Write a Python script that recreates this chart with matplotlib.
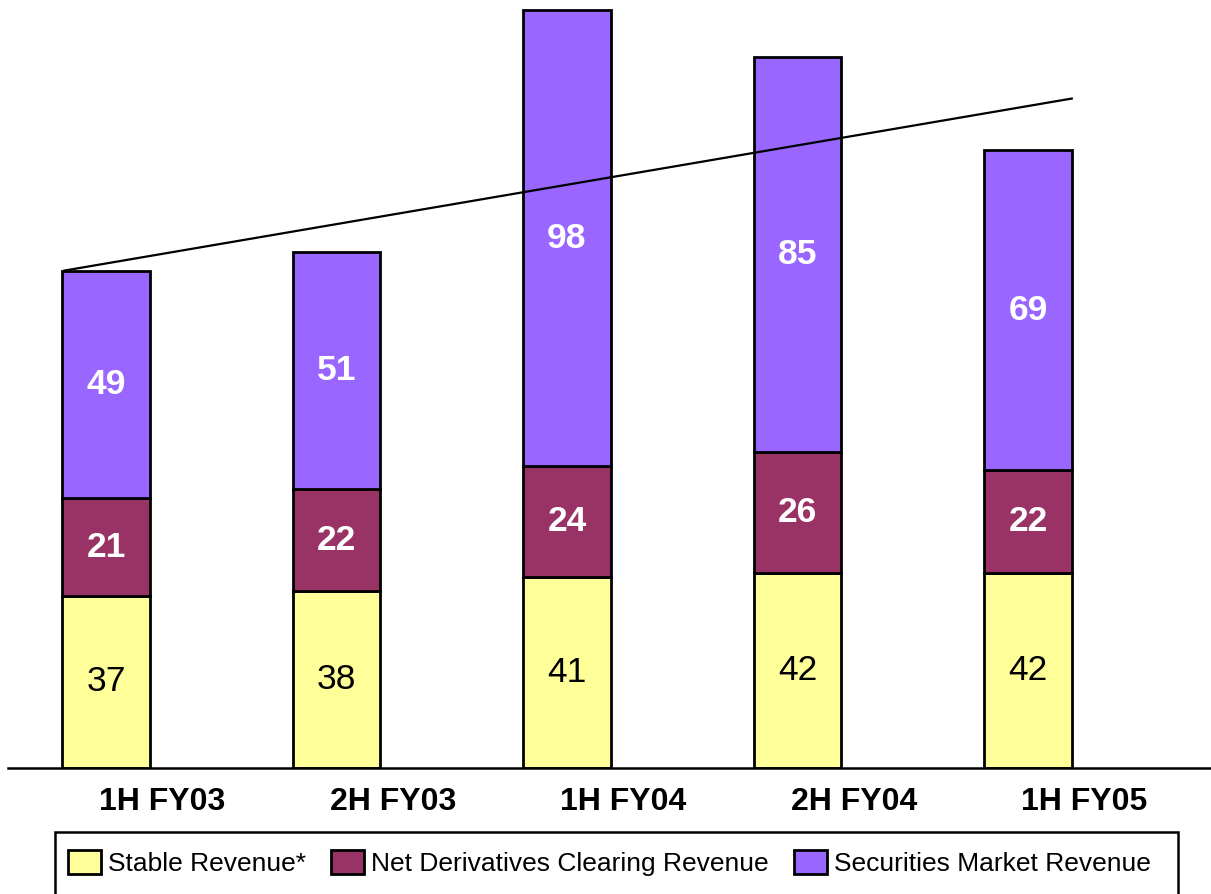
import matplotlib.pyplot as plt
from matplotlib.patches import Patch, Rectangle

plt.rcParams['font.family'] = ['Liberation Sans', 'DejaVu Sans']

periods = ['1H FY03', '2H FY03', '1H FY04', '2H FY04', '1H FY05']
stable = [37, 38, 41, 42, 42]
derivatives = [21, 22, 24, 26, 22]
securities = [49, 51, 98, 85, 69]

# trend line end points (x position, value)
trend_x = [-0.18, 4.19]
trend_y = [107, 144]

yellow = '#FFFF99'
maroon = '#993366'
purple = '#9966FF'

fig = plt.figure(figsize=(12.11, 8.94), dpi=100)
ax = fig.add_axes([8 / 1211, 126 / 894, 1203 / 1211, 768 / 894])

x = list(range(len(periods)))
w = 0.38
bottom2 = [a + b for a, b in zip(stable, derivatives)]

ax.bar(x, stable, w, color=yellow, edgecolor='black', linewidth=2)
ax.bar(x, derivatives, w, bottom=stable, color=maroon, edgecolor='black', linewidth=2)
ax.bar(x, securities, w, bottom=bottom2, color=purple, edgecolor='black', linewidth=2)

for i in x:
    ax.text(i, stable[i] / 2, str(stable[i]), ha='center', va='center',
            fontsize=25.5, color='black')
    ax.text(i, stable[i] + derivatives[i] / 2, str(derivatives[i]), ha='center',
            va='center', fontsize=25.5, color='white', fontweight='bold')
    ax.text(i, bottom2[i] + securities[i] / 2, str(securities[i]), ha='center',
            va='center', fontsize=25.5, color='white', fontweight='bold')

ax.plot(trend_x, trend_y, color='black', linewidth=1.6, clip_on=False)

ax.set_xlim(-0.425, 4.794)
ax.set_ylim(0, 165.2)
# labels sit a little to the right of the bars in the original
ax.set_xticks([i + 0.245 for i in x])
ax.set_xticklabels(periods, fontsize=23, fontweight='bold')
ax.tick_params(axis='x', length=0, pad=14)
ax.set_yticks([])
for s in ['top', 'left', 'right']:
    ax.spines[s].set_visible(False)
ax.spines['bottom'].set_linewidth(1.8)
ax.patch.set_alpha(0)

handles = [Patch(facecolor=yellow, edgecolor='black', linewidth=2),
           Patch(facecolor=maroon, edgecolor='black', linewidth=2),
           Patch(facecolor=purple, edgecolor='black', linewidth=2)]
labels = ['Stable Revenue*', 'Net Derivatives Clearing Revenue', 'Securities Market Revenue']
leg = fig.legend(handles, labels, loc='center left', ncol=3,
                 bbox_to_anchor=(68 / 1211, 1 - 863 / 894),
                 fontsize=19, frameon=False,
                 handlelength=1.25, handleheight=1.0,
                 handletextpad=0.27, columnspacing=0.95, borderpad=0,
                 borderaxespad=0)

fig.patches.append(Rectangle((55 / 1211, -0.02), 1123 / 1211, (894 - 832) / 894 + 0.02,
                             transform=fig.transFigure, fill=False,
                             edgecolor='black', linewidth=1.8))

fig.savefig('out.png', dpi=100)
